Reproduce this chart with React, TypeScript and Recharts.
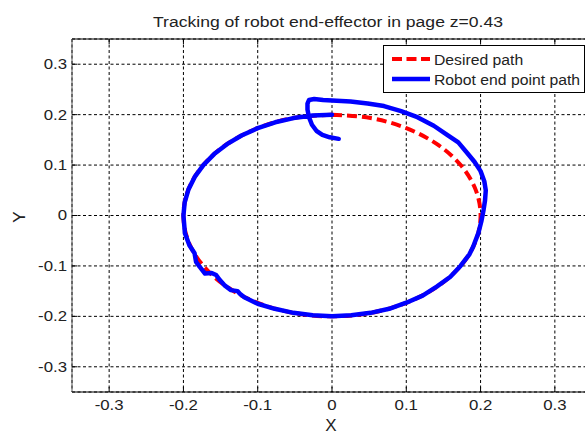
import React from 'react';
import { LineChart, Line, XAxis, YAxis, CartesianGrid, Legend, ReferenceLine } from 'recharts';

const xTicks = [-0.3, -0.2, -0.1, 0, 0.1, 0.2, 0.3];
const yTicks = [-0.3, -0.2, -0.1, 0, 0.1, 0.2, 0.3];

// Desired path (circle, r = 0.2)
const desiredX = [0, 0.0518, 0.1, 0.1414, 0.1732, 0.1932, 0.2, 0.1932, 0.1732, 0.1414, 0.1, 0.0518, 0, -0.0518, -0.1, -0.1414, -0.1732, -0.1932, -0.2, -0.1932, -0.1732, -0.1414, -0.1, -0.0518, 0];
const desiredY = [0.2, 0.1932, 0.1732, 0.1414, 0.1, 0.0518, 0, -0.0518, -0.1, -0.1414, -0.1732, -0.1932, -0.2, -0.1932, -0.1732, -0.1414, -0.1, -0.0518, 0, 0.0518, 0.1, 0.1414, 0.1732, 0.1932, 0.2];

// Robot end point path
const robotX = [
  0.009, -0.003, -0.013, -0.021, -0.027, -0.031, -0.033, -0.033, -0.031, -0.024, -0.012,
  0.0, 0.025, 0.048, 0.07, 0.093, 0.115, 0.137, 0.155, 0.17, 0.182, 0.192, 0.2, 0.205, 0.207, 0.206, 0.204, 0.201, 0.197,
  0.19, 0.185, 0.173, 0.159, 0.141, 0.122, 0.1, 0.077, 0.052, 0.026, 0.0, -0.026, -0.052, -0.077, -0.1,
  -0.118, -0.124, -0.127, -0.136, -0.145, -0.151, -0.156, -0.162, -0.171, -0.178, -0.183, -0.185, -0.192, -0.198, -0.2,
  -0.1983, -0.1932, -0.1848, -0.1732, -0.1587, -0.1414, -0.1218, -0.1, -0.0765, -0.0518, -0.0261, 0,
];
const robotY = [
  0.152, 0.155, 0.16, 0.168, 0.18, 0.195, 0.21, 0.222, 0.229, 0.231, 0.229,
  0.228, 0.226, 0.222, 0.217, 0.207, 0.195, 0.178, 0.16, 0.145, 0.124, 0.106, 0.088, 0.068, 0.05, 0.03, 0.011, -0.012, -0.035,
  -0.062, -0.077, -0.1, -0.122, -0.141, -0.159, -0.173, -0.185, -0.193, -0.198, -0.2, -0.198, -0.193, -0.185, -0.175,
  -0.162, -0.155, -0.15, -0.148, -0.138, -0.128, -0.118, -0.114, -0.115, -0.102, -0.092, -0.075, -0.059, -0.035, 0,
  0.0261, 0.0518, 0.0765, 0.1, 0.1218, 0.1414, 0.1587, 0.1732, 0.1848, 0.1932, 0.1983, 0.2,
];

const desiredData = desiredX.map((x, i) => ({ x, y: desiredY[i] }));
const robotData = robotX.map((x, i) => ({ x, y: robotY[i] }));

const FONT = '"Liberation Sans", Arial, Helvetica, sans-serif';
const PLOT_TOP = 39;

const XTick = (props: any) => {
  const { x, y, payload } = props;
  return (
    <g>
      <line x1={x} x2={x} y1={y} y2={y - 5} stroke="#000" />
      <line x1={x} x2={x} y1={PLOT_TOP} y2={PLOT_TOP + 5} stroke="#000" />
      <text
        x={x}
        y={y + 18}
        textAnchor="middle"
        fontSize={15}
        fontFamily={FONT}
        fill="#222"
        transform={`translate(${x} 0) scale(1.12 1) translate(${-x} 0)`}
      >
        {String(payload.value)}
      </text>
    </g>
  );
};

const YTick = (props: any) => {
  const { x, y, payload } = props;
  const tx = x - 5;
  return (
    <g>
      <line x1={x} x2={x + 5} y1={y} y2={y} stroke="#000" />
      <text
        x={tx}
        y={y + 5}
        textAnchor="end"
        fontSize={15}
        fontFamily={FONT}
        fill="#222"
        transform={`translate(${tx} 0) scale(1.12 1) translate(${-tx} 0)`}
      >
        {String(payload.value)}
      </text>
    </g>
  );
};

const renderLegend = () => (
  <svg width={202} height={48} style={{ display: 'block' }}>
    <rect x={0.5} y={0.5} width={201} height={47} fill="#fff" stroke="#000" />
    <line x1={9} x2={47} y1={14} y2={14} stroke="#ff0000" strokeWidth={4} strokeDasharray="10 4.5" />
    <text x={51} y={20} fontSize={15} fontFamily={FONT} fill="#222" transform="translate(51 0) scale(1.05 1) translate(-51 0)">
      Desired path
    </text>
    <line x1={9} x2={47} y1={34} y2={34} stroke="#0000ff" strokeWidth={4.5} />
    <text x={51} y={40} fontSize={15} fontFamily={FONT} fill="#222" transform="translate(51 0) scale(1.05 1) translate(-51 0)">
      Robot end point path
    </text>
  </svg>
);

export default function App() {
  return (
    <div style={{ position: 'absolute', left: 0, top: 0, width: 585, height: 435, overflow: 'hidden', background: '#fff' }}>
      <LineChart width={600} height={435} margin={{ top: PLOT_TOP, right: 8, bottom: 0, left: 0 }}>
        <CartesianGrid stroke="#000" strokeDasharray="3 2.5" strokeWidth={1} />
        <XAxis
          type="number"
          dataKey="x"
          domain={[-0.35, 0.35]}
          ticks={xTicks}
          interval={0}
          allowDataOverflow
          height={43}
          tickSize={0}
          tickMargin={0}
          tickLine={false}
          tick={<XTick />}
          axisLine={{ stroke: '#000' }}
        />
        <YAxis
          type="number"
          dataKey="y"
          domain={[-0.35, 0.35]}
          ticks={yTicks}
          interval={0}
          allowDataOverflow
          width={72}
          tickSize={0}
          tickMargin={0}
          tickLine={false}
          tick={<YTick />}
          axisLine={{ stroke: '#555' }}
        />
        <ReferenceLine y={0.35} stroke="#000" ifOverflow="visible" />
        <Line
          data={desiredData}
          dataKey="y"
          name="Desired path"
          type="natural"
          stroke="#ff0000"
          strokeWidth={4}
          strokeDasharray="10 5"
          dot={false}
          activeDot={false}
          isAnimationActive={false}
        />
        <Line
          data={robotData}
          dataKey="y"
          name="Robot end point path"
          type="linear"
          stroke="#0000ff"
          strokeWidth={4.5}
          strokeLinejoin="round"
          strokeLinecap="round"
          dot={false}
          activeDot={false}
          isAnimationActive={false}
        />
        <Legend
          layout="vertical"
          align="center"
          verticalAlign="middle"
          content={renderLegend}
          wrapperStyle={{ position: 'absolute', left: 383, top: 45, width: 202, height: 48 }}
        />
      </LineChart>
      <svg width={585} height={435} style={{ position: 'absolute', left: 0, top: 0, pointerEvents: 'none' }}>
        <text x={328} y={27} textAnchor="middle" fontSize={15.5} fontFamily={FONT} fill="#222" textLength={350} lengthAdjust="spacingAndGlyphs">
          Tracking of robot end-effector in page z=0.43
        </text>
        <text x={331} y={431} textAnchor="middle" fontSize={17} fontFamily={FONT} fill="#222">
          X
        </text>
        <text x={25} y={217} textAnchor="middle" fontSize={17} fontFamily={FONT} fill="#222" transform="rotate(-90 25 217)">
          Y
        </text>
      </svg>
    </div>
  );
}
